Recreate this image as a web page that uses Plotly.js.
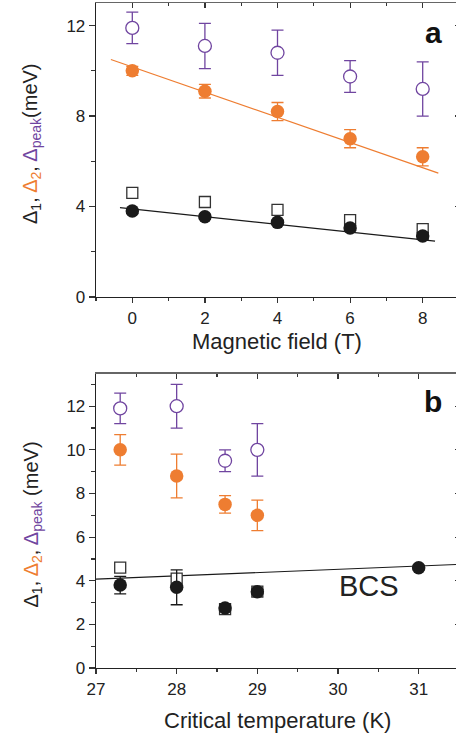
<!DOCTYPE html>
<html>
<head>
<meta charset="utf-8">
<script src="https://cdn.plot.ly/plotly-3.0.1.min.js"></script>
<style>
  html, body { margin: 0; padding: 0; overflow: hidden; background: #fff; }
  #chart { width: 460px; height: 738px; }
</style>
</head>
<body>
<div id="chart"></div>
<script>
// ---- Panel a: gaps versus magnetic field ----
const fieldT     = [0, 2, 4, 6, 8];
const peakA      = [11.9, 11.1, 10.8, 9.75, 9.2];
const peakAErr   = [0.7, 1.0, 1.0, 0.7, 1.2];
const gap2A      = [10.0, 9.1, 8.2, 7.0, 6.2];
const gap2AErr   = [0.2, 0.3, 0.4, 0.4, 0.4];
const gap1A      = [3.8, 3.55, 3.3, 3.05, 2.7];
const gap1AErr   = [0.1, 0.1, 0.1, 0.1, 0.15];
const gap1SqA    = [4.6, 4.2, 3.85, 3.4, 3.0];
const fit2AX     = [-0.59, 8.43];
const fit2AY     = [10.5, 5.48];
const fit1AX     = [-0.34, 8.34];
const fit1AY     = [3.95, 2.47];

// ---- Panel b: gaps versus critical temperature ----
const tcB        = [27.3, 28, 28.6, 29];
const peakB      = [11.9, 12.0, 9.5, 10.0];
const peakBErr   = [0.7, 1.0, 0.5, 1.2];
const gap2B      = [10.0, 8.8, 7.5, 7.0];
const gap2BErr   = [0.7, 1.0, 0.4, 0.7];
const tc1B       = [27.3, 28, 28.6, 29, 31];
const gap1B      = [3.8, 3.7, 2.75, 3.5, 4.6];
const gap1BErr   = [0.4, 0.8, 0.1, 0.1, 0.1];
const gap1SqB    = [4.6, 4.1, 2.7, 3.5];
const bcsX       = [27, 31.5];
const bcsY       = [4.07, 4.75];

const PURPLE = '#7045a0';
const ORANGE = '#ee7d31';
const BLACK  = '#1a1a1a';
const FONT   = 'Liberation Sans, Arial, Helvetica, sans-serif';

// figure geometry (pixels)
const W = 460, H = 738;
const M = { l: 96, r: 1, t: 3, b: 70 };
const plotW = W - M.l - M.r, plotH = H - M.t - M.b;
const px2x = px => (px - M.l) / plotW;
const px2y = py => (H - M.b - py) / plotH;

function openCircles(x, y, err, xa, ya) {
  return { x, y, xaxis: xa, yaxis: ya, type: 'scatter', mode: 'markers', showlegend: false,
    marker: { symbol: 'circle', size: 13, color: '#fff', line: { color: PURPLE, width: 1.3 } },
    error_y: { type: 'data', array: err, visible: true, color: PURPLE, thickness: 1.3, width: 6 } };
}
function filledCircles(x, y, err, color, xa, ya) {
  return { x, y, xaxis: xa, yaxis: ya, type: 'scatter', mode: 'markers', showlegend: false,
    marker: { symbol: 'circle', size: 13.5, color: color, line: { width: 0 } },
    error_y: { type: 'data', array: err, visible: true, color: color, thickness: 1.3, width: 6 } };
}
function openSquares(x, y, xa, ya) {
  return { x, y, xaxis: xa, yaxis: ya, type: 'scatter', mode: 'markers', showlegend: false,
    marker: { symbol: 'square', size: 11, color: '#fff', line: { color: '#333', width: 1.3 } } };
}
function line(x, y, color, xa, ya) {
  return { x, y, xaxis: xa, yaxis: ya, type: 'scatter', mode: 'lines', showlegend: false,
    line: { color: color, width: 1.2 }, hoverinfo: 'skip' };
}

const traces = [
  line(fit2AX, fit2AY, ORANGE, 'x', 'y'),
  line(fit1AX, fit1AY, BLACK, 'x', 'y'),
  openSquares(fieldT, gap1SqA, 'x', 'y'),
  filledCircles(fieldT, gap1A, gap1AErr, BLACK, 'x', 'y'),
  filledCircles(fieldT, gap2A, gap2AErr, ORANGE, 'x', 'y'),
  openCircles(fieldT, peakA, peakAErr, 'x', 'y'),

  line(bcsX, bcsY, BLACK, 'x2', 'y2'),
  openSquares(tcB, gap1SqB, 'x2', 'y2'),
  filledCircles(tc1B, gap1B, gap1BErr, BLACK, 'x2', 'y2'),
  filledCircles(tcB, gap2B, gap2BErr, ORANGE, 'x2', 'y2'),
  openCircles(tcB, peakB, peakBErr, 'x2', 'y2'),

  // carriers for the mirrored top/right frame axes
  { x: [], y: [], xaxis: 'x3', yaxis: 'y3', type: 'scatter', showlegend: false },
  { x: [], y: [], xaxis: 'x4', yaxis: 'y4', type: 'scatter', showlegend: false }
];

const tickFont = { family: FONT, size: 17, color: '#222' };
const frame = { showline: true, linecolor: '#222', linewidth: 1.3, zeroline: false, showgrid: false,
  tickcolor: '#333', tickwidth: 1.2, tickfont: tickFont, fixedrange: true };
const mirrorX = Object.assign({}, frame, { side: 'top', ticks: 'inside', ticklen: 5, showticklabels: false, linecolor: '#666' });
const mirrorY = Object.assign({}, frame, { side: 'right', ticks: 'inside', ticklen: 4, showticklabels: false });

const domA = [px2y(297), 1];
const domB = [0, px2y(373.5)];

const titleFont = { family: FONT, size: 20, color: '#222' };

const layout = {
  width: W, height: H,
  margin: M,
  paper_bgcolor: '#fff', plot_bgcolor: 'rgba(0,0,0,0)',
  font: { family: FONT, color: '#222' },
  xaxis: Object.assign({}, frame, { domain: [0, 1], anchor: 'y', range: [-1, 9], dtick: 2, tick0: 0,
    ticks: 'outside', ticklen: 5, minor: { dtick: 1, ticks: 'outside', ticklen: 3, tickcolor: '#333' } }),
  yaxis: Object.assign({}, frame, { domain: domA, anchor: 'x', range: [0, 13], dtick: 4, tick0: 0,
    ticks: 'outside', ticklen: 6, minor: { dtick: 2, ticks: 'outside', ticklen: 4, tickcolor: '#333' } }),
  xaxis3: Object.assign({}, mirrorX, { overlaying: 'x', anchor: 'y', range: [-1, 9], dtick: 2, tick0: 0,
    minor: { dtick: 1, ticks: 'inside', ticklen: 3, tickcolor: '#333' } }),
  yaxis3: Object.assign({}, mirrorY, { overlaying: 'y', anchor: 'x', range: [0, 13], dtick: 4, tick0: 0,
    minor: { dtick: 2, ticks: 'inside', ticklen: 3, tickcolor: '#333' } }),

  xaxis2: Object.assign({}, frame, { domain: [0, 1], anchor: 'y2', range: [27, 31.5], dtick: 1, tick0: 27,
    ticks: 'outside', ticklen: 5, minor: { dtick: 0.5, ticks: 'outside', ticklen: 3, tickcolor: '#333' } }),
  yaxis2: Object.assign({}, frame, { domain: domB, anchor: 'x2', range: [0, 13.5], dtick: 2, tick0: 0,
    ticks: 'outside', ticklen: 6, minor: { dtick: 1, ticks: 'outside', ticklen: 4, tickcolor: '#333' } }),
  xaxis4: Object.assign({}, mirrorX, { overlaying: 'x2', anchor: 'y2', range: [27, 31.5], dtick: 1, tick0: 27,
    minor: { dtick: 0.5, ticks: 'inside', ticklen: 3, tickcolor: '#333' } }),
  yaxis4: Object.assign({}, mirrorY, { overlaying: 'y2', anchor: 'x2', range: [0, 13.5], dtick: 2, tick0: 0,
    minor: { dtick: 1, ticks: 'inside', ticklen: 3, tickcolor: '#333' } }),

  annotations: [
    { xref: 'paper', yref: 'paper', x: px2x(32), y: px2y(144), xanchor: 'center', yanchor: 'middle',
      textangle: -90, showarrow: false, font: titleFont,
      text: 'Δ<sub>1</sub>, <span style="color:' + ORANGE + '">Δ<sub>2</sub></span>, ' +
            '<span style="color:' + PURPLE + '">Δ<sub>peak</sub></span>(meV)' },
    { xref: 'paper', yref: 'paper', x: px2x(32), y: px2y(524.5), xanchor: 'center', yanchor: 'middle',
      textangle: -90, showarrow: false, font: titleFont,
      text: 'Δ<sub>1</sub>, <span style="color:' + ORANGE + '">Δ<sub>2</sub></span>, ' +
            '<span style="color:' + PURPLE + '">Δ<sub>peak</sub></span> (meV)' },
    { xref: 'paper', yref: 'paper', x: px2x(277), y: px2y(341), xanchor: 'center', yanchor: 'middle',
      showarrow: false, font: { family: FONT, size: 22, color: '#222' }, text: 'Magnetic field (T)' },
    { xref: 'paper', yref: 'paper', x: px2x(277), y: px2y(720), xanchor: 'center', yanchor: 'middle',
      showarrow: false, font: { family: FONT, size: 22, color: '#222' }, text: 'Critical temperature (K)' },
    { xref: 'paper', yref: 'paper', x: px2x(433), y: px2y(32), xanchor: 'center', yanchor: 'middle',
      showarrow: false, font: { family: FONT, size: 30, color: '#111', weight: 'bold' }, text: '<b>a</b>' },
    { xref: 'paper', yref: 'paper', x: px2x(433), y: px2y(401), xanchor: 'center', yanchor: 'middle',
      showarrow: false, font: { family: FONT, size: 30, color: '#111', weight: 'bold' }, text: '<b>b</b>' },
    { xref: 'x2', yref: 'y2', x: 30.38, y: 3.77, xanchor: 'center', yanchor: 'middle',
      showarrow: false, font: { family: FONT, size: 29, color: '#222' }, text: 'BCS' }
  ]
};

Plotly.newPlot('chart', traces, layout, { staticPlot: true, displayModeBar: false });
</script>
</body>
</html>
